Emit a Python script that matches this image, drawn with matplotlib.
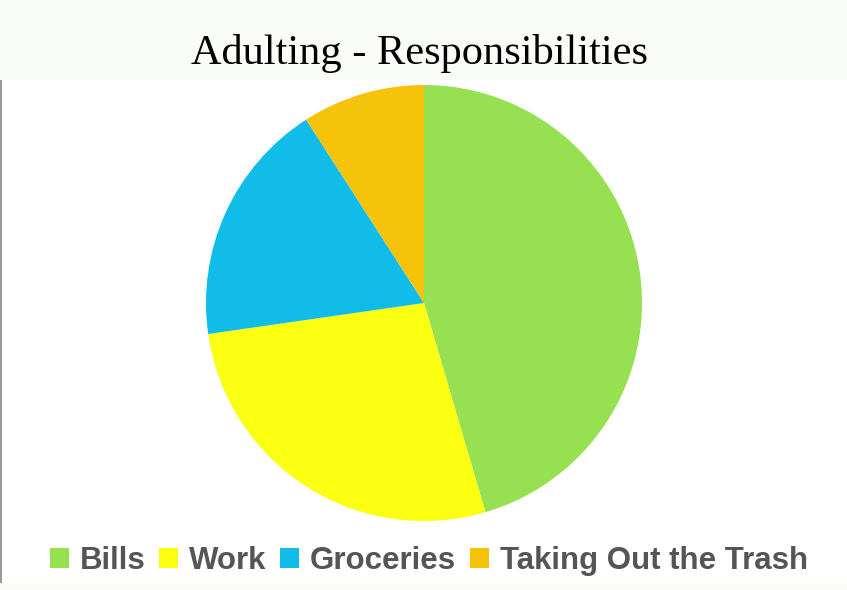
import matplotlib.pyplot as plt
from matplotlib.patches import Patch, Rectangle

labels = ['Bills', 'Work', 'Groceries', 'Taking Out the Trash']
values = [5, 3, 2, 1]
colors = ['#97e052', '#fbff10', '#11bde8', '#f5c30a']

W, H = 847, 590
fig = plt.figure(figsize=(W / 100, H / 100), dpi=100)
fig.patch.set_facecolor('white')

# light band behind the title and at the bottom, thin grey line on the left
fig.patches.append(Rectangle((0, 1 - 80 / H), 1, 80 / H, transform=fig.transFigure,
                             facecolor='#fafcf8', edgecolor='none', zorder=0))
fig.patches.append(Rectangle((0, 0), 1, 7 / H, transform=fig.transFigure,
                             facecolor='#fafcf8', edgecolor='none', zorder=0))
fig.patches.append(Rectangle((0, 7 / H), 1.5 / W, (H - 87) / H, transform=fig.transFigure,
                             facecolor='#9a9a9a', edgecolor='none', zorder=1))

cx, cy, r = 424, 303, 218
ax = fig.add_axes([(cx - r) / W, (H - cy - r) / H, 2 * r / W, 2 * r / H])
ax.pie(values, colors=colors, startangle=90, counterclock=False, radius=1,
       wedgeprops=dict(linewidth=0))
ax.set_xlim(-1, 1)
ax.set_ylim(-1, 1)
ax.set_aspect('equal')
ax.axis('off')

fig.text(419 / W, 1 - 64 / H, 'Adulting - Responsibilities', ha='center', va='baseline',
         fontsize=30.5, family='Liberation Serif', color='black')

handles = [Patch(facecolor=c, edgecolor='none') for c in colors]
leg = fig.legend(handles, labels, loc='center', bbox_to_anchor=(429 / W, 1 - 561 / H),
                 ncol=4, frameon=False, handlelength=0.6, handleheight=0.6,
                 handletextpad=0.35, columnspacing=0.45,
                 prop=dict(family='Liberation Sans', weight='bold', size=22.5))
for t in leg.get_texts():
    t.set_color('#555555')

fig.savefig('out.png', dpi=100)
